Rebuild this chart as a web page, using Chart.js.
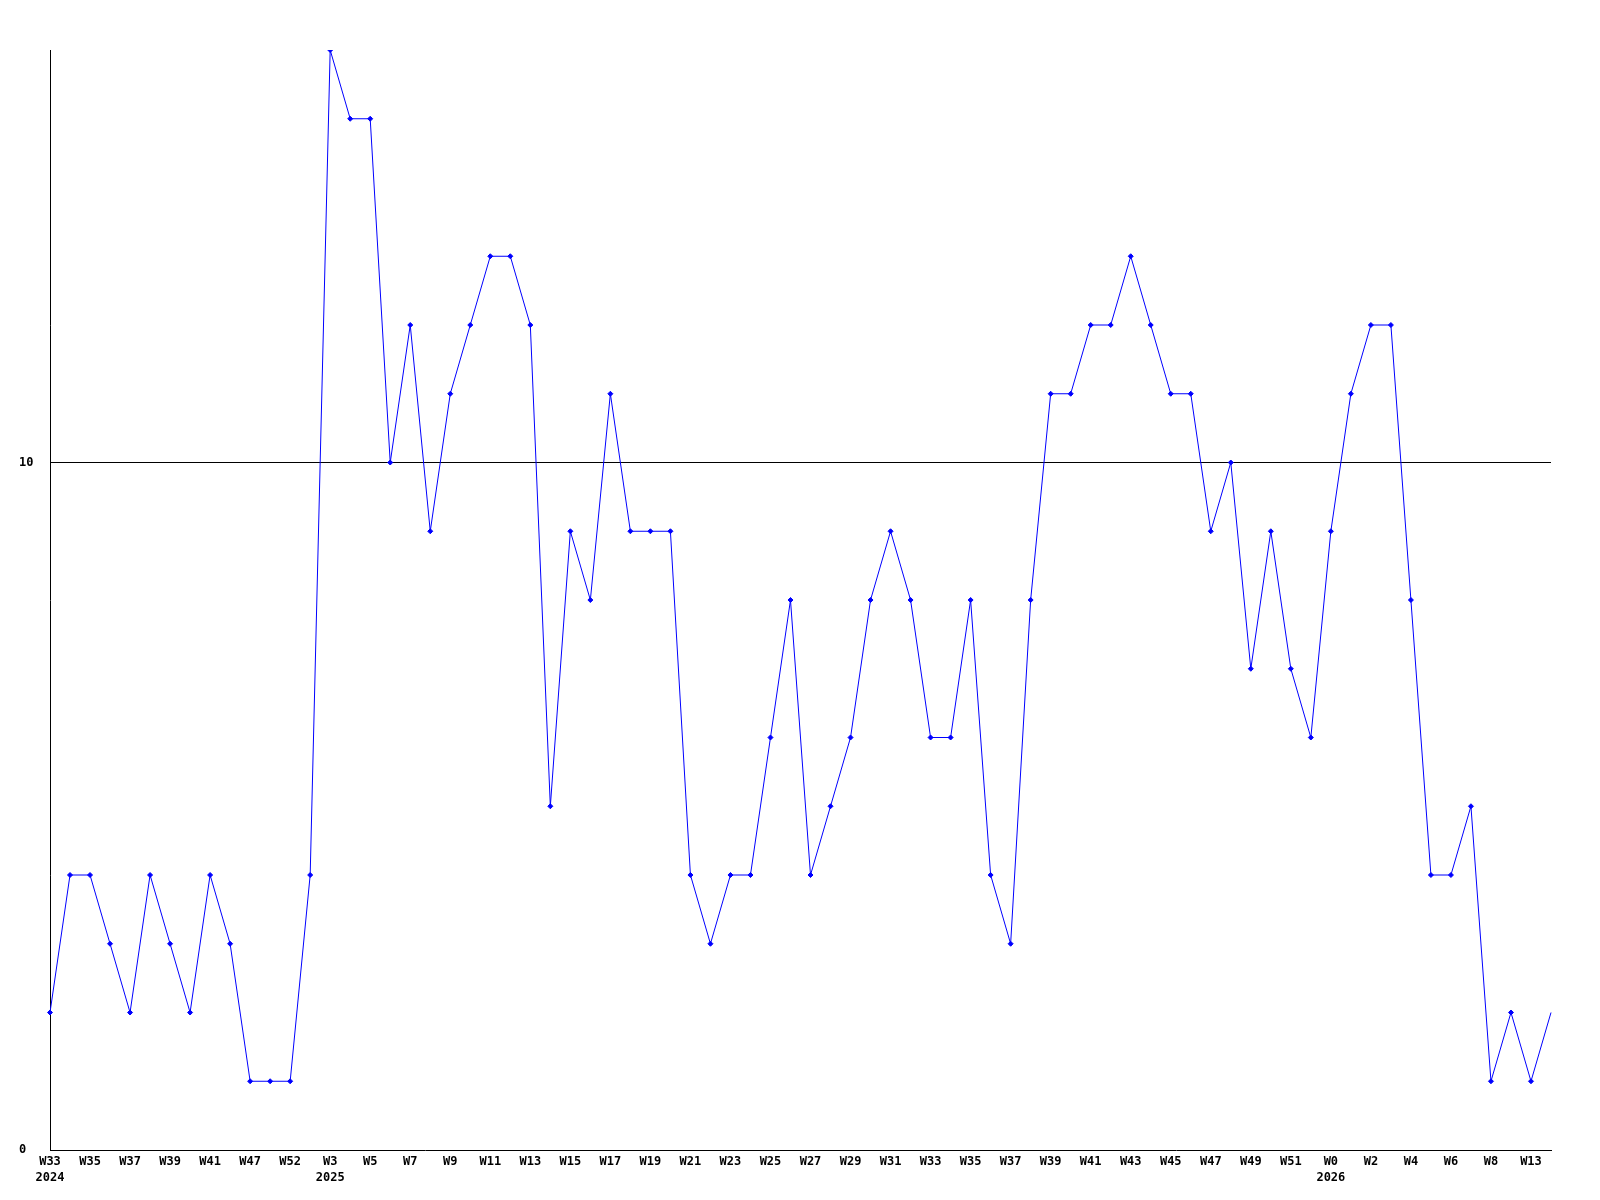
<!DOCTYPE html>
<html>
<head>
<meta charset="utf-8">
<script src="https://cdn.jsdelivr.net/npm/chart.js@4/dist/chart.umd.min.js"></script>
<style>
html,body{margin:0;padding:0;background:#fff;}
#wrap{width:1600px;height:1200px;position:relative;}
</style>
</head>
<body>
<div id="wrap"><canvas id="c" width="1600" height="1200"></canvas></div>
<script>
const weekLabels = ['W33','W34','W35','W36','W37','W38','W39','W40','W41','W44','W47','W50','W52','W1',
  'W3','W4','W5','W6','W7','W8','W9','W10','W11','W12','W13','W14','W15','W16','W17','W18','W19','W20',
  'W21','W22','W23','W24','W25','W26','W27','W28','W29','W30','W31','W32','W33','W34','W35','W36','W37',
  'W38','W39','W40','W41','W42','W43','W44','W45','W46','W47','W48','W49','W50','W51','W52',
  'W0','W1','W2','W3','W4','W5','W6','W7','W8','W10','W13','W14'];
const yearLabels = {0:'2024', 14:'2025', 64:'2026'};
const values = [2,4,4,3,2,4,3,2,4,3,1,1,1,4,
  16,15,15,10,12,9,11,12,13,13,12,5,9,8,11,9,9,9,
  4,3,4,4,6,8,4,5,6,8,9,8,6,6,8,4,3,
  8,11,11,12,12,13,12,11,11,9,10,7,9,7,6,
  9,11,12,12,8,4,4,5,1,2,1,2];
const yTicks = [0,10];

const mono = "'DejaVu Sans Mono', 'Liberation Mono', monospace";

new Chart(document.getElementById('c'), {
  type: 'line',
  data: {
    labels: weekLabels,
    datasets: [{
      data: values,
      borderColor: '#0000ff',
      backgroundColor: '#0000ff',
      borderWidth: 1,
      tension: 0,
      fill: false,
      pointStyle: 'rectRot',
      pointRadius: values.map((v,i)=> i === values.length-1 ? 0 : 2.5),
      pointBorderWidth: 1,
      pointBorderColor: '#0000ff',
      pointBackgroundColor: '#0000ff'
    }]
  },
  options: {
    responsive: false,
    animation: false,
    devicePixelRatio: 1,
    layout: { padding: { left: 19, top: 50, right: 49, bottom: 0 } },
    plugins: { legend: { display: false }, tooltip: { enabled: false } },
    scales: {
      x: {
        type: 'category',
        offset: false,
        grid: { display: false, drawTicks: false },
        border: { display: true, color: '#000', width: 1 },
        afterFit: s => { s.height = 50; },
        ticks: {
          autoSkip: false,
          maxRotation: 0,
          minRotation: 0,
          padding: 4,
          color: '#000',
          font: { family: mono, size: 12, weight: 'bold', lineHeight: 1.3 },
          callback: function(val, i) {
            if (i % 2 !== 0) return '';
            const w = weekLabels[i];
            return yearLabels[i] ? [w, yearLabels[i]] : w;
          }
        }
      },
      y: {
        min: 0,
        max: 16,
        afterFit: s => { s.width = 31; },
        afterBuildTicks: s => { s.ticks = yTicks.map(v => ({ value: v })); },
        grid: {
          drawTicks: false,
          lineWidth: 1,
          color: ctx => (ctx.tick && ctx.tick.value === 10) ? '#000' : 'rgba(0,0,0,0)'
        },
        border: { display: true, color: '#000', width: 1 },
        ticks: {
          crossAlign: 'far',
          color: '#000',
          font: { family: mono, size: 12, weight: 'bold' }
        }
      }
    }
  }
});
</script>
</body>
</html>
